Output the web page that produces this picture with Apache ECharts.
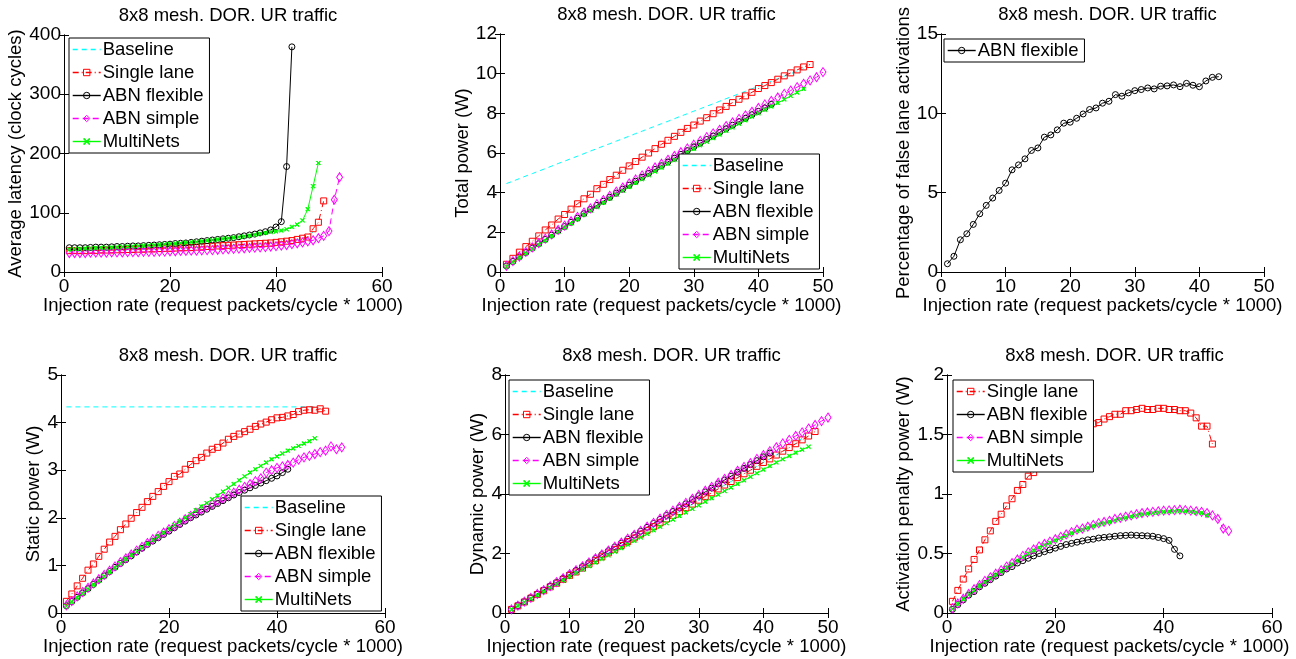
<!DOCTYPE html>
<html>
<head>
<meta charset="utf-8">
<script src="https://cdn.jsdelivr.net/npm/echarts@6/dist/echarts.min.js"></script>
<style>
html,body{margin:0;padding:0;background:#fff;}
#chart{width:1296px;height:659px;}
</style>
</head>
<body>
<div id="chart"></div>
<script>
// ---------- data ----------
const rates = [1,2,3,4,5,6,7,8,9,10,11,12,13,14,15,16,17,18,19,20,21,22,23,24,25,26,27,28,29,30,31,32,33,34,35,36,37,38,39,40,41,42,43,44,45,46,47,48,49,50,51,52];
const seriesNames = ['Baseline','Single lane','ABN flexible','ABN simple','MultiNets'];
const panelTitle = '8x8 mesh. DOR. UR traffic';
const xAxisName = 'Injection rate (request packets/cycle * 1000)';
const yAxisNames = ['Average latency (clock cycles)','Total power (W)','Percentage of false lane activations','Static power (W)','Dynamic power (W)','Activation penalty power (W)'];

// Panel 1: average latency
const latBaseline = [35.5,35.5,35.5,35.5,36,36,36.5,36.5,36.5,37,37,37.5,37.5,38,38,38.5,38.5,39,39.5,39.5,40,40.5,40.5,41,41.5,42,42.5,43,43.5,44,44.5,45,45.5,46,46.5,47,47.5,48,48.5,49.5,50.5,51.5,52.5,54,56,58,68];
const latSingle = [36,36,36,36,36.5,36.5,37,37,37,37.5,37.5,38,38,38.5,38.5,39,39,39.5,40,40,40.5,41,41,41.5,42,42.5,43,43.5,44,44.5,45,45.5,46,46.5,47,47.5,48,48.5,49,50,51,52,53,55,57,59,73,84,120];
const latFlexible = [41,41,41,41,41.5,42,42,42,42.5,43,43,43.5,44,44,44.5,45,45.5,46,46.5,47,48,48.5,49,50,51,52,53,54,55,56,57,58,59.5,61,62.5,64,66,68,71,76,85,178,380];
const latSimple = [32,32,32,32,32.5,32.5,32.5,32.5,33,33,33,33.5,33.5,33.5,34,34,34,34.5,34.5,35,35,35.5,35.5,36,36,36.5,37,37,37.5,38,38.5,39,39.5,40,40.5,41,41.5,42,43,43.5,44.5,45.5,47,48.5,50,51.5,53.5,57,61,69,122,160];
const latMulti = [38,39,39,40,40,40.5,41,41,41.5,42,42.5,43,43.5,44,44.5,45,45.5,46,47,47.5,48,49,49.5,50.5,51,52,53,54,55,56,57,58,59,60,61.5,63,64.5,66,67.5,68.5,70,72,76,80,87,106,145,184];

// Panel 2: total power
const totBaseline = [4.46,4.58,4.71,4.84,4.96,5.09,5.21,5.34,5.47,5.59,5.72,5.84,5.97,6.1,6.22,6.35,6.47,6.6,6.72,6.85,6.98,7.1,7.23,7.35,7.48,7.6,7.73,7.86,7.98,8.11,8.23,8.36,8.48,8.61,8.74,8.86,8.99,9.11,9.24,9.36,9.49,9.62,9.75,9.87,10.0,10.12,10.25];
const totSingle = [0.39,0.69,1.0,1.28,1.55,1.82,2.12,2.37,2.67,2.9,3.17,3.44,3.69,3.92,4.2,4.42,4.66,4.88,5.13,5.35,5.57,5.79,6.0,6.22,6.44,6.64,6.84,7.04,7.24,7.41,7.61,7.78,7.98,8.17,8.35,8.54,8.71,8.88,9.06,9.25,9.4,9.55,9.72,9.89,10.04,10.19,10.34,10.46];
const totFlexible = [0.3,0.53,0.76,0.98,1.2,1.42,1.64,1.86,2.08,2.29,2.51,2.72,2.94,3.15,3.36,3.57,3.77,3.98,4.18,4.38,4.58,4.78,4.97,5.17,5.36,5.55,5.74,5.93,6.12,6.31,6.5,6.68,6.86,7.04,7.22,7.4,7.58,7.75,7.93,8.1,8.27,8.45];
const totSimple = [0.31,0.55,0.78,1.01,1.24,1.46,1.68,1.9,2.12,2.34,2.56,2.78,3.0,3.21,3.42,3.63,3.84,4.05,4.26,4.47,4.67,4.87,5.07,5.27,5.46,5.66,5.85,6.04,6.23,6.42,6.61,6.8,6.99,7.17,7.36,7.54,7.72,7.9,8.08,8.27,8.45,8.63,8.8,8.98,9.15,9.32,9.49,9.66,9.82,10.08];
const totMulti = [0.28,0.5,0.72,0.94,1.16,1.38,1.59,1.81,2.02,2.24,2.45,2.66,2.87,3.08,3.28,3.49,3.69,3.89,4.09,4.29,4.49,4.68,4.88,5.07,5.26,5.45,5.64,5.83,6.02,6.2,6.39,6.57,6.75,6.93,7.11,7.29,7.47,7.65,7.83,8.0,8.18,8.35,8.52,8.7,8.88,9.05,9.23];

// Panel 3: false lane activations (%)
const falseFlexible = [0.52,0.99,2.03,2.41,3.0,3.67,4.2,4.66,5.14,5.6,6.44,6.75,7.13,7.66,7.82,8.5,8.64,8.96,9.38,9.44,9.69,9.96,10.24,10.34,10.64,10.76,11.18,11.08,11.29,11.43,11.5,11.6,11.54,11.71,11.73,11.79,11.68,11.89,11.77,11.68,12.04,12.27,12.31];

// Panel 4: static power
const statBaseline = [4.33,4.33,4.33,4.33,4.33,4.33,4.33,4.33,4.33,4.33,4.33,4.33,4.33,4.33,4.33,4.33,4.33,4.33,4.33,4.33,4.33,4.33,4.33,4.33,4.33,4.33,4.33,4.33,4.33,4.33,4.33,4.33,4.33,4.33,4.33,4.33,4.33,4.33,4.33,4.33,4.33,4.33,4.33,4.33,4.33,4.33,4.33];
const statSingle = [0.245,0.4,0.57,0.73,0.9,1.03,1.19,1.34,1.49,1.61,1.75,1.87,1.99,2.11,2.22,2.34,2.45,2.55,2.66,2.76,2.87,2.92,3.02,3.12,3.2,3.27,3.36,3.44,3.48,3.57,3.65,3.71,3.76,3.81,3.86,3.92,3.97,4.01,4.06,4.1,4.11,4.14,4.17,4.23,4.26,4.27,4.26,4.29,4.24];
const statFlexible = [0.15,0.24,0.33,0.42,0.51,0.6,0.69,0.78,0.87,0.96,1.04,1.12,1.2,1.28,1.36,1.44,1.51,1.58,1.65,1.72,1.79,1.86,1.93,2.0,2.06,2.12,2.18,2.24,2.3,2.36,2.42,2.48,2.53,2.58,2.63,2.68,2.73,2.78,2.83,2.88,2.95,3.02];
const statSimple = [0.16,0.25,0.35,0.44,0.53,0.62,0.71,0.8,0.89,0.98,1.07,1.15,1.23,1.31,1.39,1.47,1.55,1.62,1.69,1.76,1.83,1.9,1.97,2.04,2.11,2.17,2.23,2.29,2.35,2.41,2.47,2.53,2.59,2.65,2.71,2.77,2.83,2.95,3.0,3.05,3.08,3.11,3.16,3.22,3.27,3.3,3.34,3.38,3.41,3.5,3.44,3.48];
const statMulti = [0.14,0.23,0.32,0.41,0.5,0.59,0.68,0.77,0.86,0.95,1.04,1.13,1.21,1.29,1.37,1.45,1.53,1.61,1.69,1.77,1.85,1.93,2.0,2.08,2.16,2.24,2.31,2.39,2.47,2.55,2.63,2.71,2.79,2.87,2.95,3.02,3.09,3.16,3.23,3.29,3.35,3.41,3.46,3.51,3.56,3.61,3.67];

// Panel 5: dynamic power
const dynBaseline = [0.12,0.24,0.37,0.5,0.62,0.75,0.88,1.0,1.13,1.26,1.38,1.51,1.64,1.76,1.89,2.02,2.14,2.27,2.4,2.52,2.65,2.78,2.9,3.03,3.16,3.28,3.41,3.54,3.66,3.79,3.92,4.04,4.17,4.3,4.42,4.55,4.68,4.8,4.93,5.06,5.18,5.31,5.44,5.57,5.7,5.88];
const dynSingle = [0.12,0.24,0.37,0.5,0.62,0.75,0.88,1.0,1.13,1.26,1.38,1.51,1.64,1.76,1.89,2.02,2.14,2.27,2.4,2.52,2.65,2.78,2.9,3.03,3.16,3.28,3.41,3.54,3.66,3.79,3.92,4.04,4.17,4.3,4.42,4.55,4.68,4.8,4.93,5.06,5.18,5.31,5.44,5.56,5.69,5.82,5.95,6.1];
const dynFlexible = [0.12,0.25,0.38,0.51,0.64,0.77,0.9,1.03,1.16,1.3,1.43,1.56,1.69,1.83,1.96,2.09,2.22,2.35,2.48,2.62,2.75,2.88,3.01,3.15,3.28,3.41,3.54,3.67,3.81,3.94,4.07,4.2,4.34,4.47,4.6,4.73,4.86,4.99,5.12,5.25,5.38];
const dynSimple = [0.12,0.25,0.38,0.51,0.64,0.77,0.9,1.04,1.17,1.31,1.44,1.57,1.7,1.84,1.97,2.1,2.23,2.37,2.5,2.63,2.76,2.9,3.03,3.17,3.3,3.44,3.57,3.7,3.84,3.97,4.11,4.24,4.38,4.51,4.64,4.78,4.91,5.04,5.18,5.31,5.44,5.57,5.7,5.82,5.95,6.07,6.2,6.32,6.45,6.57];
const dynMulti = [0.12,0.24,0.36,0.48,0.6,0.72,0.85,0.97,1.1,1.22,1.34,1.46,1.58,1.7,1.82,1.94,2.06,2.18,2.3,2.42,2.54,2.66,2.78,2.9,3.02,3.14,3.26,3.38,3.5,3.62,3.74,3.86,3.98,4.1,4.22,4.34,4.46,4.58,4.7,4.82,4.94,5.06,5.17,5.28,5.39,5.49,5.59];

// Panel 6: activation penalty power
const actSingle = [0.098,0.19,0.285,0.37,0.45,0.53,0.615,0.69,0.77,0.83,0.9,0.96,1.03,1.08,1.15,1.18,1.22,1.27,1.31,1.35,1.39,1.43,1.47,1.5,1.53,1.56,1.59,1.6,1.63,1.65,1.67,1.67,1.7,1.7,1.71,1.72,1.71,1.71,1.72,1.72,1.71,1.71,1.70,1.70,1.68,1.64,1.57,1.57,1.42];
const actFlexible = [0.03,0.07,0.11,0.15,0.18,0.22,0.25,0.28,0.31,0.34,0.37,0.39,0.42,0.44,0.46,0.48,0.5,0.515,0.53,0.545,0.56,0.575,0.585,0.595,0.605,0.615,0.62,0.63,0.635,0.64,0.645,0.65,0.652,0.655,0.652,0.65,0.648,0.645,0.635,0.625,0.61,0.535,0.48];
const actSimple = [0.04,0.08,0.12,0.16,0.2,0.235,0.27,0.3,0.33,0.36,0.39,0.42,0.45,0.48,0.51,0.535,0.56,0.58,0.6,0.62,0.64,0.66,0.68,0.7,0.71,0.725,0.74,0.755,0.765,0.775,0.79,0.8,0.81,0.82,0.83,0.84,0.845,0.85,0.855,0.86,0.862,0.865,0.868,0.865,0.86,0.855,0.85,0.84,0.82,0.79,0.71,0.69];
const actMulti = [0.035,0.075,0.115,0.155,0.19,0.225,0.26,0.29,0.32,0.35,0.38,0.41,0.44,0.47,0.5,0.525,0.55,0.57,0.59,0.61,0.63,0.65,0.67,0.69,0.70,0.715,0.73,0.745,0.755,0.765,0.78,0.79,0.80,0.81,0.82,0.83,0.835,0.84,0.845,0.85,0.852,0.855,0.858,0.855,0.85,0.845,0.84,0.82];

// axis ranges [xMax, xInterval, yMax, yInterval]
const axisRanges = [[60,20,400,100],[50,10,12,2],[50,10,15,5],[60,20,5,1],[50,10,8,2],[60,20,2,0.5]];

// ---------- chart ----------
const FONT = "'Liberation Sans', Arial, Helvetica, sans-serif";
const FS = 18.5;
const TICK_FS = 19;
const X_PATH = 'path://M0,1L1,0L5,4L9,0L10,1L6,5L10,9L9,10L5,6L1,10L0,9L4,5Z';
const HOLLOW = 'rgba(255,255,255,0)';
const styles = {
  'Baseline':     {color:'#00ffff', type:[5,4], symbol:'none', size:0, fill:HOLLOW},
  'Single lane':  {color:'#ff0000', type:[6,3,1,3], symbol:'rect', size:6, fill:HOLLOW},
  'ABN flexible': {color:'#000000', type:'solid', symbol:'circle', size:6, fill:HOLLOW},
  'ABN simple':   {color:'#ff00ff', type:[6,4], symbol:'diamond', size:[6,9], fill:HOLLOW},
  'MultiNets':    {color:'#00ff00', type:'solid', symbol:X_PATH, size:4, fill:'#00ff00'}
};

const grids = [
  {left:64, top:35, width:318, height:237},
  {left:500, top:34, width:323, height:238},
  {left:941, top:34, width:323, height:238},
  {left:61, top:375, width:324, height:238},
  {left:505, top:375, width:323, height:238},
  {left:947, top:375, width:325, height:238}
];
const yNameGaps = [36, 28, 28, 16, 18, 32];
const legendPos = [
  {left:69, top:38, names:seriesNames},
  {left:679, top:154, names:seriesNames},
  {left:944, top:39, names:['ABN flexible']},
  {left:241, top:496, names:seriesNames},
  {left:509, top:380, names:seriesNames},
  {left:953, top:380, names:['Single lane','ABN flexible','ABN simple','MultiNets']}
];
const panelData = [
  {'Baseline':latBaseline,'Single lane':latSingle,'ABN flexible':latFlexible,'ABN simple':latSimple,'MultiNets':latMulti},
  {'Baseline':totBaseline,'Single lane':totSingle,'ABN flexible':totFlexible,'ABN simple':totSimple,'MultiNets':totMulti},
  {'ABN flexible':falseFlexible},
  {'Baseline':statBaseline,'Single lane':statSingle,'ABN flexible':statFlexible,'ABN simple':statSimple,'MultiNets':statMulti},
  {'Baseline':dynBaseline,'Single lane':dynSingle,'ABN flexible':dynFlexible,'ABN simple':dynSimple,'MultiNets':dynMulti},
  {'Single lane':actSingle,'ABN flexible':actFlexible,'ABN simple':actSimple,'MultiNets':actMulti}
];

function legendItem(name) {
  const st = styles[name];
  const isNone = st.symbol === 'none';
  return {
    name: name,
    itemStyle: {color: isNone ? HOLLOW : st.fill, borderColor: isNone ? HOLLOW : st.color, borderWidth: 1, opacity: 1},
    lineStyle: {color: st.color, width: 1.4, type: st.type, opacity: 1}
  };
}

const tickStyle = {inside:true, length:5, lineStyle:{color:'#000', width:1}};
const lineStyleAx = {lineStyle:{color:'#000', width:1}};
const option = {
  animation:false,
  backgroundColor:'#fff',
  textStyle:{fontFamily:FONT},
  title:[], grid:[], xAxis:[], yAxis:[], legend:[], series:[]
};

grids.forEach((g, k) => {
  const [xMax, xInt, yMax, yInt] = axisRanges[k];
  option.grid.push(Object.assign({show:false, containLabel:false}, g));
  option.title.push({
    text: panelTitle, left: g.left + g.width/2, top: g.top - 34, textAlign:'center',
    textStyle:{fontFamily:FONT, fontSize:FS, fontWeight:'normal', color:'#000'}
  });
  option.xAxis.push({
    type:'value', gridIndex:k, min:0, max:xMax, interval:xInt, position:'bottom',
    name:xAxisName, nameLocation:'middle', nameGap:24,
    nameTextStyle:{fontFamily:FONT, fontSize:FS, color:'#000'},
    axisLine:lineStyleAx, axisTick:tickStyle, splitLine:{show:false},
    axisLabel:{fontFamily:FONT, fontSize:TICK_FS, color:'#000', margin:5}
  });
  option.xAxis.push({
    type:'value', gridIndex:k, min:0, max:xMax, interval:xInt, position:'top',
    axisLine:lineStyleAx, axisTick:tickStyle, splitLine:{show:false}, axisLabel:{show:false}
  });
  option.yAxis.push({
    type:'value', gridIndex:k, min:0, max:yMax, interval:yInt, position:'left',
    name:yAxisNames[k], nameLocation:'middle', nameGap:yNameGaps[k],
    nameTextStyle:{fontFamily:FONT, fontSize:FS, color:'#000'},
    axisLine:lineStyleAx, axisTick:tickStyle, splitLine:{show:false},
    axisLabel:{fontFamily:FONT, fontSize:TICK_FS, color:'#000', margin:3}
  });
  option.yAxis.push({
    type:'value', gridIndex:k, min:0, max:yMax, interval:yInt, position:'right',
    axisLine:lineStyleAx, axisTick:tickStyle, splitLine:{show:false}, axisLabel:{show:false}
  });
  const lp = legendPos[k];
  option.legend.push({
    data: lp.names.map(legendItem), left: lp.left, top: lp.top, orient:'vertical',
    itemWidth:28, itemHeight:8, itemGap:4, padding:[2,6,2,3],
    borderColor:'#000', borderWidth:1, backgroundColor:'#fff',
    textStyle:{fontFamily:FONT, fontSize:FS, color:'#000', padding:[0,0,0,-3]},
    selectedMode:false
  });
  Object.keys(panelData[k]).forEach(name => {
    const st = styles[name];
    const vals = panelData[k][name];
    option.series.push({
      type:'line', name:name, xAxisIndex:2*k, yAxisIndex:2*k,
      data: vals.map((v,i) => [rates[i], v]),
      symbol: st.symbol, symbolSize: st.size, showSymbol: st.symbol !== 'none',
      lineStyle:{color:st.color, width:1, type:st.type},
      itemStyle:{color: st.fill, borderColor:st.color, borderWidth:1},
      emphasis:{disabled:true}, silent:true
    });
  });
});

const chart = echarts.init(document.getElementById('chart'), null, {renderer:'canvas'});
chart.setOption(option);
</script>
</body>
</html>
